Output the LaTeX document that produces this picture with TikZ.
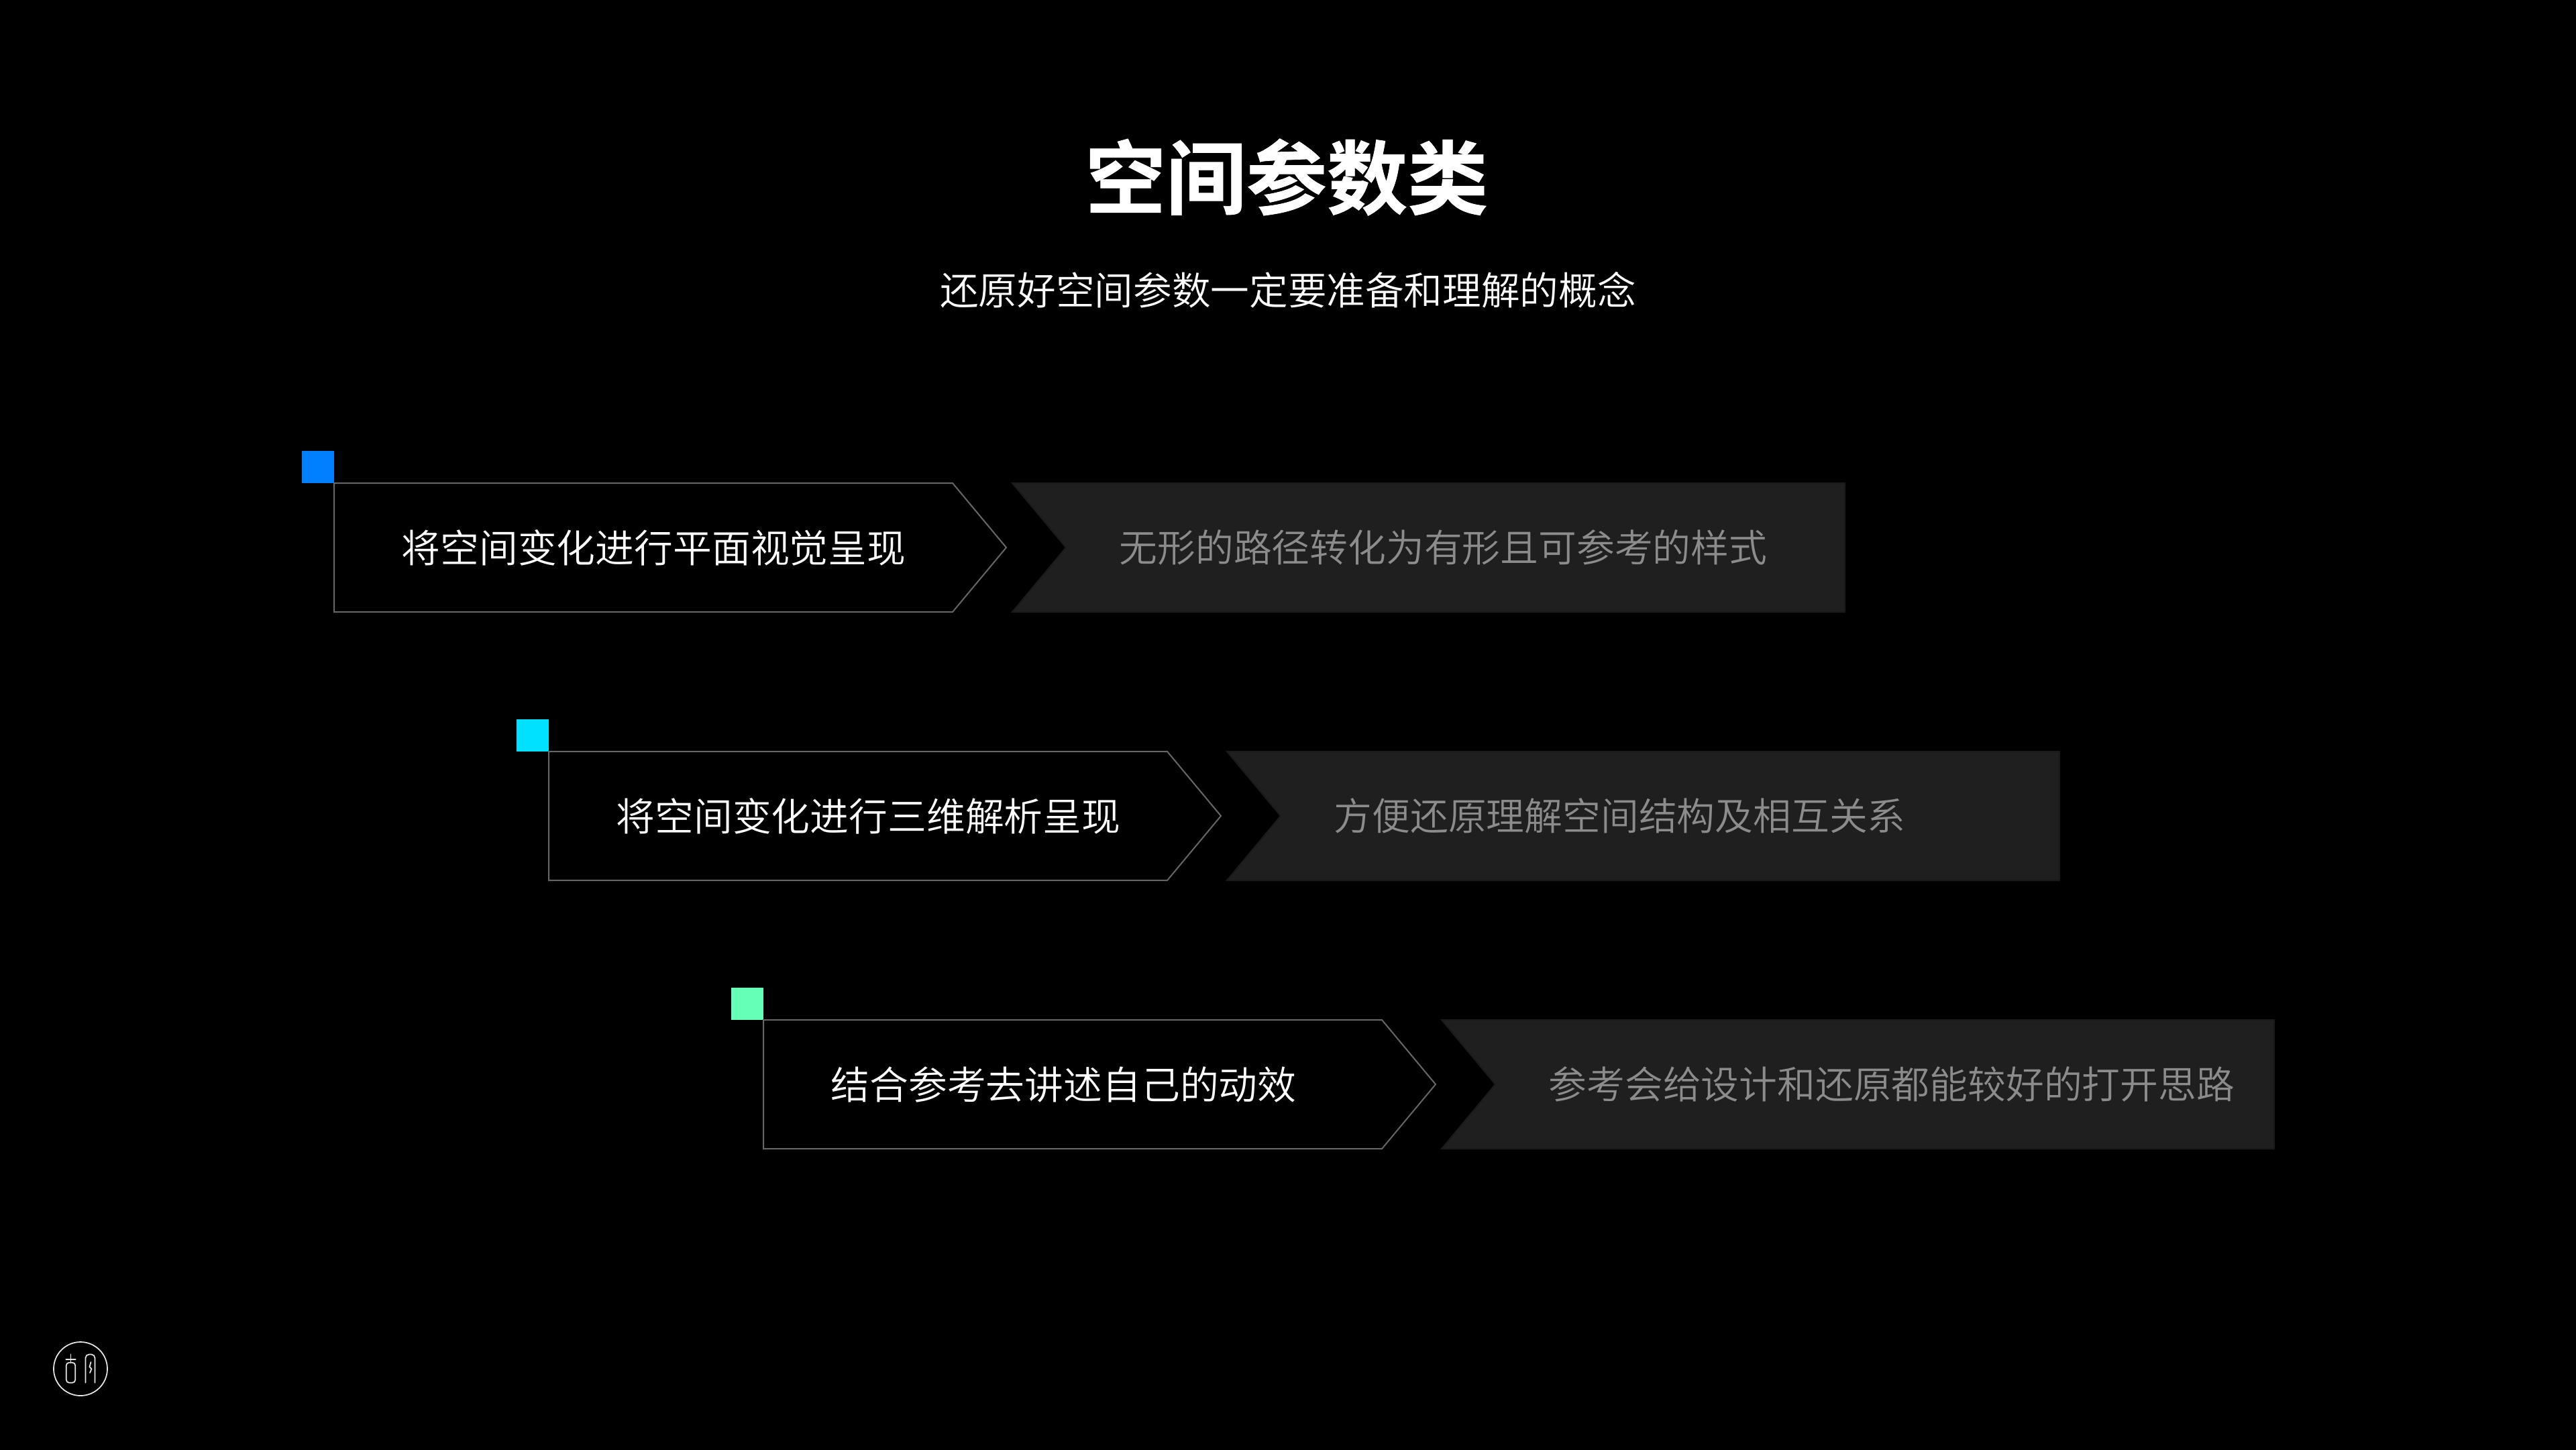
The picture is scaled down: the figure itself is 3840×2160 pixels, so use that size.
\documentclass[tikz,border=0pt]{standalone}
\usepackage{fontspec}
\setmainfont{Noto Sans CJK SC DemiLight}
\newfontfamily\cjkbold[FakeBold=0.6]{Noto Sans CJK SC Bold}
\definecolor{edgegrey}{HTML}{666666}
\definecolor{panelfill}{HTML}{1F1F1F}
\definecolor{paneledge}{HTML}{1A1A1A}
\definecolor{mutedtext}{HTML}{8C8C8C}
\definecolor{sqblue}{HTML}{0080FF}
\definecolor{sqcyan}{HTML}{00E1FF}
\definecolor{sqmint}{HTML}{66FFB8}
\tikzset{
  outlinebox/.style={draw=edgegrey,line width=0.57pt,fill=black,line join=miter},
  panelbox/.style={fill=panelfill,draw=paneledge,line width=0.57pt},
  mainlabel/.style={text=white,anchor=west,inner sep=0pt,font=\fontsize{16.44pt}{20pt}\selectfont},
  mutedlabel/.style={text=mutedtext,anchor=west,inner sep=0pt,font=\fontsize{16.15pt}{20pt}\selectfont},
  logoline/.style={draw=white!90!black,line width=0.5pt,line cap=round,line join=round}
}
\begin{document}
\begin{tikzpicture}[x=0.01cm,y=-0.01cm]
\useasboundingbox (0,0) rectangle (3840,2160);
\fill[black] (-20,-20) rectangle (3860,2180);
\node[text=white,inner sep=0pt,font=\fontsize{34.15pt}{40pt}\cjkbold] (title) at (1918,264) {空间参数类};
\node[text=white,inner sep=0pt,font=\fontsize{16.39pt}{20pt}\selectfont] (subtitle) at (1920,432) {还原好空间参数一定要准备和理解的概念};
% row 1
\fill[sqblue] (450,672) rectangle (498,720);
\draw[outlinebox] (498,720) -- (1420,720) -- (1500,816) -- (1420,912) -- (498,912) -- cycle;
\draw[panelbox] (1509,720) -- (2750,720) -- (2750,912) -- (1509,912) -- (1589,816) -- cycle;
\node[mainlabel] (m1) at (598,816) {将空间变化进行平面视觉呈现};
\node[mutedlabel] (d1) at (1668,816) {无形的路径转化为有形且可参考的样式};
% row 2
\fill[sqcyan] (770,1072) rectangle (818,1120);
\draw[outlinebox] (818,1120) -- (1740,1120) -- (1820,1216) -- (1740,1312) -- (818,1312) -- cycle;
\draw[panelbox] (1829,1120) -- (3070,1120) -- (3070,1312) -- (1829,1312) -- (1909,1216) -- cycle;
\node[mainlabel] (m2) at (918,1216) {将空间变化进行三维解析呈现};
\node[mutedlabel] (d2) at (1988,1216) {方便还原理解空间结构及相互关系};
% row 3
\fill[sqmint] (1090,1472) rectangle (1138,1520);
\draw[outlinebox] (1138,1520) -- (2060,1520) -- (2140,1616) -- (2060,1712) -- (1138,1712) -- cycle;
\draw[panelbox] (2149,1520) -- (3390,1520) -- (3390,1712) -- (2149,1712) -- (2229,1616) -- cycle;
\node[mainlabel] (m3) at (1238,1616) {结合参考去讲述自己的动效};
\node[mutedlabel] (d3) at (2308,1616) {参考会给设计和还原都能较好的打开思路};
% logo
\draw[logoline] (120,2040) circle (40);
\draw[logoline] (98.3,2025.7) -- (112.7,2025.7) (105.5,2018.5) -- (105.5,2030.7);
\draw[logoline,rounded corners=1.2] (98.8,2030.7) -- (98.8,2060.7) -- (112.2,2060.7) -- (112.2,2030.7) -- cycle;
\draw[logoline,rounded corners=1.5] (127.5,2060.7) -- (127.5,2018.5) -- (141.5,2018.5) -- (141.5,2060.7);
\draw[logoline] (135.5,2030) -- (133.5,2037) -- (136.5,2040) -- (134,2046);
\end{tikzpicture}
\end{document}
